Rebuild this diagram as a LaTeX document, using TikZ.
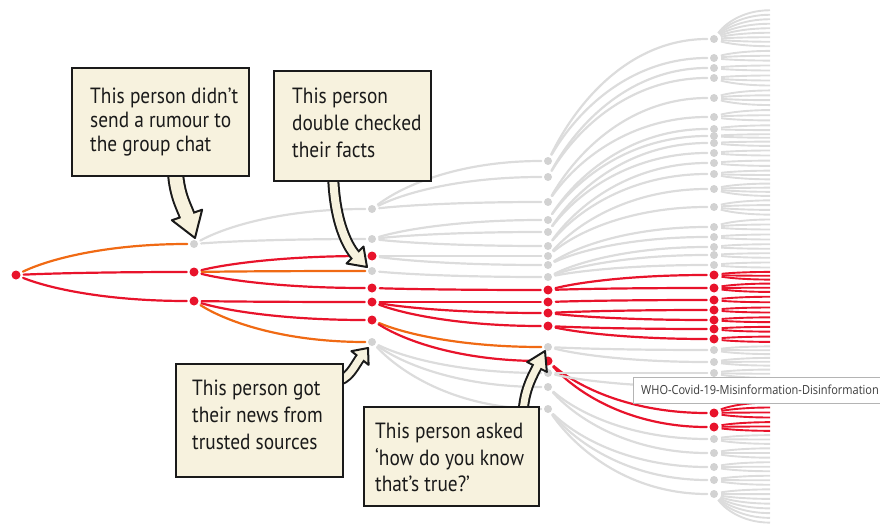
\documentclass[tikz,border=0pt]{standalone}
\usepackage{fontspec}
\usetikzlibrary{calc}
\newfontfamily\handfont[FakeStretch=0.88]{PT Sans}
\newfontfamily\tipfont[FakeStretch=0.88]{Open Sans}

\definecolor{rumour}{HTML}{E8132B}
\definecolor{halted}{HTML}{F06A14}
\definecolor{quiet}{HTML}{DCDCDC}
\definecolor{quietdot}{HTML}{D2D2D2}
\definecolor{cream}{HTML}{F7F2DE}
\definecolor{ink}{HTML}{1A1A1A}
\definecolor{tipline}{HTML}{B4B4B4}
\definecolor{tiptext}{HTML}{3C3C3C}

% fat outlined arrow: name, start, first control, head base, tip, shaft width, head half-width
\newcommand{\calloutarrow}[7]{%
  \coordinate (#1-s) at #2;
  \coordinate (#1-c) at #3;
  \coordinate (#1-b) at #4;
  \coordinate (#1-t) at #5;
  \coordinate (#1-k) at ($(#1-b)!-10pt!(#1-t)$);
  \coordinate (#1-e) at ($(#1-b)!3pt!(#1-t)$);
  \pgfmathsetmacro\outerw{#6+4}
  \draw[draw=ink, line width=\outerw pt] (#1-s) .. controls (#1-c) and (#1-k) .. (#1-e);
  \filldraw[fill=cream, draw=ink, line width=2pt, line join=round]
    ($(#1-b)!#7pt!90:(#1-t)$) -- (#1-t) -- ($(#1-b)!#7pt!-90:(#1-t)$) -- cycle;
  \draw[draw=cream, line width=#6pt] (#1-s) .. controls (#1-c) and (#1-k) .. (#1-e);
}

\begin{document}
\begin{tikzpicture}[x=1pt, y=-1pt,
  branch/.style={to path={let \p1=(\tikztostart), \p2=(\tikztotarget) in
    .. controls ({\x1+0.18*(\x2-\x1)},{\y1+0.5*(\y2-\y1)}) and ({\x1+0.5*(\x2-\x1)},{\y2}) .. (\tikztotarget)}},
  edge/.style={line width=2.2pt, line cap=round, shorten <=3pt, shorten >=2.5pt},
  eR/.style={edge, draw=rumour},
  eO/.style={edge, draw=halted},
  eG/.style={edge, draw=quiet},
  fan/.style={line width=1.9pt, shorten <=3pt},
  fR/.style={fan, draw=rumour},
  fG/.style={fan, draw=quiet},
  dR/.style={circle, fill=rumour, inner sep=0pt, minimum size=9pt},
  dG/.style={circle, fill=quietdot, inner sep=0pt, minimum size=8pt},
  callout/.style={draw=ink, line width=2pt, fill=cream, inner sep=0pt, anchor=north west},
  calltext/.style={font=\handfont\fontsize{22}{#1}\selectfont, text=ink, align=left, inner sep=0pt, anchor=north west},
  tipbox/.style={draw=tipline, line width=0.8pt, fill=white, anchor=north west, inner sep=0pt}
]
\useasboundingbox (0,0) rectangle (880,532);

% ---- dots of each generation ----
\node[dR] (d0-275) at (16,275) {};
\foreach \v/\s in {244/dG,272/dR,301/dR}
  \node[\s] (d1-\v) at (194,\v) {};
\foreach \v/\s in {209/dG,239/dG,256/dR,271/dG,288/dR,302/dR,320/dR,342/dG}
  \node[\s] (d2-\v) at (372,\v) {};
\foreach \v/\s in {161/dG,177/dG,202/dG,220/dG,232/dG,246/dG,256/dG,265/dG,277/dG,
                   290/dR,302/dR,313/dR,326/dR,347/dG,361/dR,373/dG,387/dG,409/dG}
  \node[\s] (d3-\v) at (548,\v) {};
\foreach \v/\s in {39/dG,58/dG,68/dG,78/dG,98/dG,117/dG,129/dG,136/dG,143/dG,153/dG,
                   163/dG,174/dG,189/dG,207/dG,227/dG,237/dG,247/dG,255/dG,265/dG,
                   275/dR,288/dR,300/dR,310/dR,320/dR,329/dR,339/dR,
                   350/dG,362/dG,373/dG,387/dG,413/dR,427/dR,
                   439/dG,453/dG,467/dG,480/dG,494/dG}
  \node[\s] (d4-\v) at (714,\v) {};

% ---- branches between generations ----
\foreach \a/\b/\s in {275/244/eO,275/272/eR,275/301/eR}
  \draw[\s] (d0-\a) to[branch] (d1-\b);
\foreach \a/\b/\s in {244/209/eG,244/239/eG,272/256/eR,272/271/eO,272/288/eR,
                      301/302/eR,301/320/eR,301/342/eO}
  \draw[\s] (d1-\a) to[branch] (d2-\b);
\foreach \a/\b/\s in {209/161/eG,209/177/eG,209/202/eG,239/220/eG,239/232/eG,239/246/eG,
                      256/256/eG,256/265/eG,271/277/eG,288/290/eR,302/302/eR,302/313/eR,
                      302/326/eR,320/347/eO,320/361/eR,342/373/eG,342/387/eG,342/409/eG}
  \draw[\s] (d2-\a) to[branch] (d3-\b);
\foreach \a/\b/\s in {161/39/eG,161/58/eG,177/68/eG,177/78/eG,202/98/eG,202/117/eG,
                      220/129/eG,220/136/eG,232/143/eG,232/153/eG,246/163/eG,246/174/eG,
                      256/189/eG,256/207/eG,265/227/eG,265/237/eG,277/247/eG,277/255/eG,
                      277/265/eG,290/275/eR,290/288/eR,302/300/eR,313/310/eR,313/320/eR,
                      326/329/eR,326/339/eR,347/350/eG,347/362/eG,361/413/eR,361/427/eR,
                      373/373/eG,373/387/eG,387/439/eG,387/453/eG,409/467/eG,409/480/eG,
                      409/494/eG}
  \draw[\s] (d3-\a) to[branch] (d4-\b);

% ---- last generation: short fans running off to the right ----
\foreach \v/\ylo/\yhi/\s in {39/8/48.5/fG,58/48.5/63/fG,68/63/73/fG,78/73/88/fG,
    98/88/107.5/fG,117/107.5/123/fG,129/123/132.5/fG,136/132.5/139.5/fG,143/139.5/148/fG,
    153/148/158/fG,163/158/168.5/fG,174/168.5/181.5/fG,189/181.5/198/fG,207/198/217/fG,
    227/217/232/fG,237/232/242/fG,247/242/251/fG,255/251/260/fG,265/260/270/fG,
    275/270/281.5/fR,288/281.5/294/fR,300/294/305/fR,310/305/315/fR,320/315/324.5/fR,
    329/324.5/334/fR,339/334/344.5/fR,350/344.5/356/fG,362/356/367.5/fG,373/367.5/380/fG,
    387/380/400/fG,413/400/420/fR,427/420/433/fR,439/433/446/fG,453/446/460/fG,
    467/460/473.5/fG,480/473.5/487/fG,494/487/525/fG}{
  \pgfmathtruncatemacro\nfan{max(2,round((\yhi-\ylo)/4.5))}
  \foreach \j in {1,...,\nfan}{
    \pgfmathsetmacro\yend{\ylo+(\j-0.5)*(\yhi-\ylo)/\nfan}
    \coordinate (t-\v-\j) at (770,\yend);
    \draw[\s] (d4-\v) to[branch] (t-\v-\j);
  }
}

% ---- callout arrows ----
\calloutarrow{ar1}{(175,165)}{(176,195)}{(187,215)}{(195,238)}{13}{16}
\calloutarrow{ar2}{(333,172)}{(334,222)}{(355,255)}{(367,267)}{8}{12}
\calloutarrow{ar3}{(333,382)}{(350,380)}{(360,358)}{(368,348)}{7}{11}
\calloutarrow{ar4}{(523,414)}{(524,390)}{(537,367)}{(545,351)}{7}{11}

% ---- callout boxes ----
\node[callout, minimum width=177pt, minimum height=108pt] (box1) at (71,67) {};
\node[calltext=24pt] (txt1) at (90,88) {This person didn’t\\send a rumour to\\the group chat};
\node[callout, minimum width=157pt, minimum height=110pt] (box2) at (273,70) {};
\node[calltext=27pt] (txt2) at (292,88) {This person\\double checked\\their facts};
\node[callout, minimum width=167pt, minimum height=113pt] (box3) at (175,363) {};
\node[calltext=27pt] (txt3) at (192,380) {This person got\\their news from\\trusted sources};
\node[callout, minimum width=175pt, minimum height=99pt] (box4) at (363,406) {};
\node[calltext=26.5pt] (txt4) at (375,423) {This person asked\\‘how do you know\\that’s true?’};

% ---- hover label ----
\node[tipbox, minimum width=270pt, minimum height=26pt] (tip) at (633,377) {};
\node[font=\tipfont\fontsize{12.5}{14}\selectfont, text=tiptext, anchor=west, inner sep=0pt]
  (tiplabel) at (641,390) {WHO-Covid-19-Misinformation-Disinformation};
\end{tikzpicture}
\end{document}
